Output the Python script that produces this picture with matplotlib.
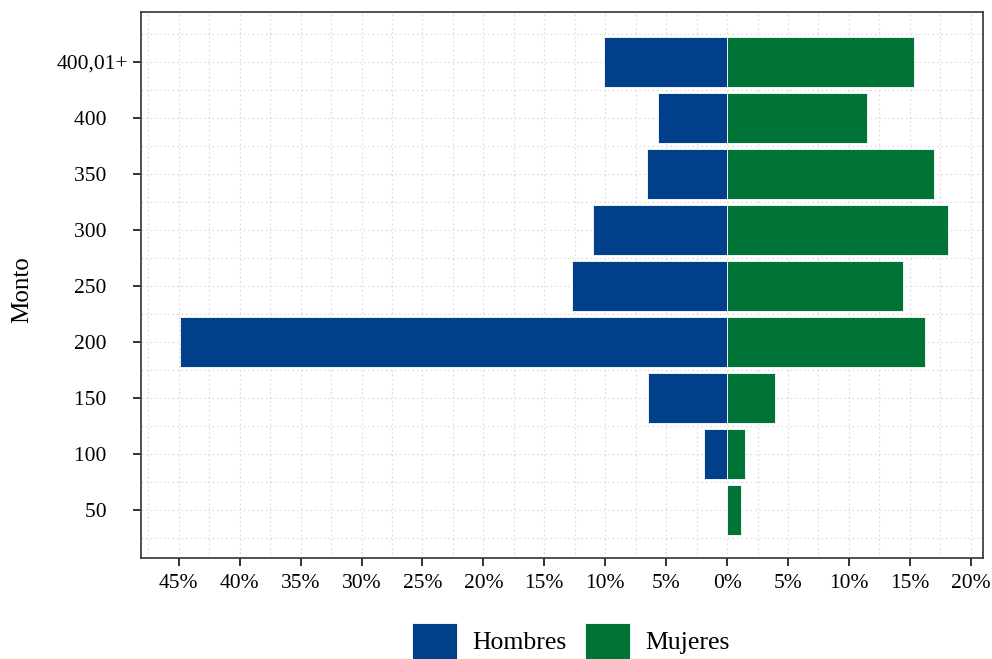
import matplotlib
matplotlib.use("Agg")
import matplotlib.pyplot as plt
import numpy as np
from matplotlib.patches import Patch
from matplotlib.ticker import FixedLocator, MultipleLocator

categories = ["50", "100", "150", "200", "250", "300", "350", "400", "400,01+"]
hombres = [0.0, 1.9, 6.5, 44.9, 12.7, 11.0, 6.6, 5.7, 10.1]
mujeres = [1.1, 1.5, 3.9, 16.2, 14.4, 18.1, 17.0, 11.5, 15.3]
xticks = [-45, -40, -35, -30, -25, -20, -15, -10, -5, 0, 5, 10, 15, 20]
xticklabels = [f"{abs(t)}%" for t in xticks]
ylabels = [c if c == "400,01+" else c + "    " for c in categories]

blue = "#00408A"
green = "#007337"

plt.rcParams['font.family'] = ['Liberation Serif', 'DejaVu Serif']

fig = plt.figure(figsize=(9.92, 6.59), dpi=100)
ax = fig.add_axes([141/992, 1-558/659, (983-141)/992, (558-12)/659])

y = np.arange(len(categories))
ax.barh(y, [-h for h in hombres], height=0.9, color=blue, edgecolor="white", linewidth=0.6, zorder=3)
ax.barh(y, mujeres, height=0.9, color=green, edgecolor="white", linewidth=0.6, zorder=3)

ax.set_xlim(-48.1, 21.0)
ax.set_ylim(-0.857, 8.893)
ax.set_xticks(xticks)
ax.set_xticklabels(xticklabels)
ax.set_yticks(y)
ax.set_yticklabels(ylabels)
ax.xaxis.set_minor_locator(MultipleLocator(2.5))
ax.yaxis.set_minor_locator(FixedLocator(np.arange(-0.5, 9.0, 1.0)))

ax.grid(True, which="both", linestyle=(0, (1.5, 2.5)), color="#d9d9d9", linewidth=0.8, zorder=0)
ax.set_axisbelow(True)
ax.tick_params(axis="both", which="major", length=5.5, width=1.4, color="#333333", labelsize=15.5, labelcolor="black")
ax.tick_params(axis="x", which="major", pad=6)
ax.tick_params(axis="y", which="major", pad=4)
ax.tick_params(which="minor", length=0)
for s in ax.spines.values():
    s.set_color("#333333")
    s.set_linewidth(1.2)

fig.text(22/992, 1-290/659, "Monto", rotation=90, ha="center", va="center", fontsize=18)

handles = [Patch(facecolor=blue, edgecolor="white", linewidth=0.6, label="Hombres"),
           Patch(facecolor=green, edgecolor="white", linewidth=0.6, label="Mujeres")]
fig.legend(handles=handles, loc="center", bbox_to_anchor=(571/992, 1-641/659), ncol=2,
           frameon=False, fontsize=18.5, handlelength=1.75, handleheight=1.75,
           handletextpad=0.6, columnspacing=0.7, borderpad=0)

fig.savefig("out.png", dpi=100)
